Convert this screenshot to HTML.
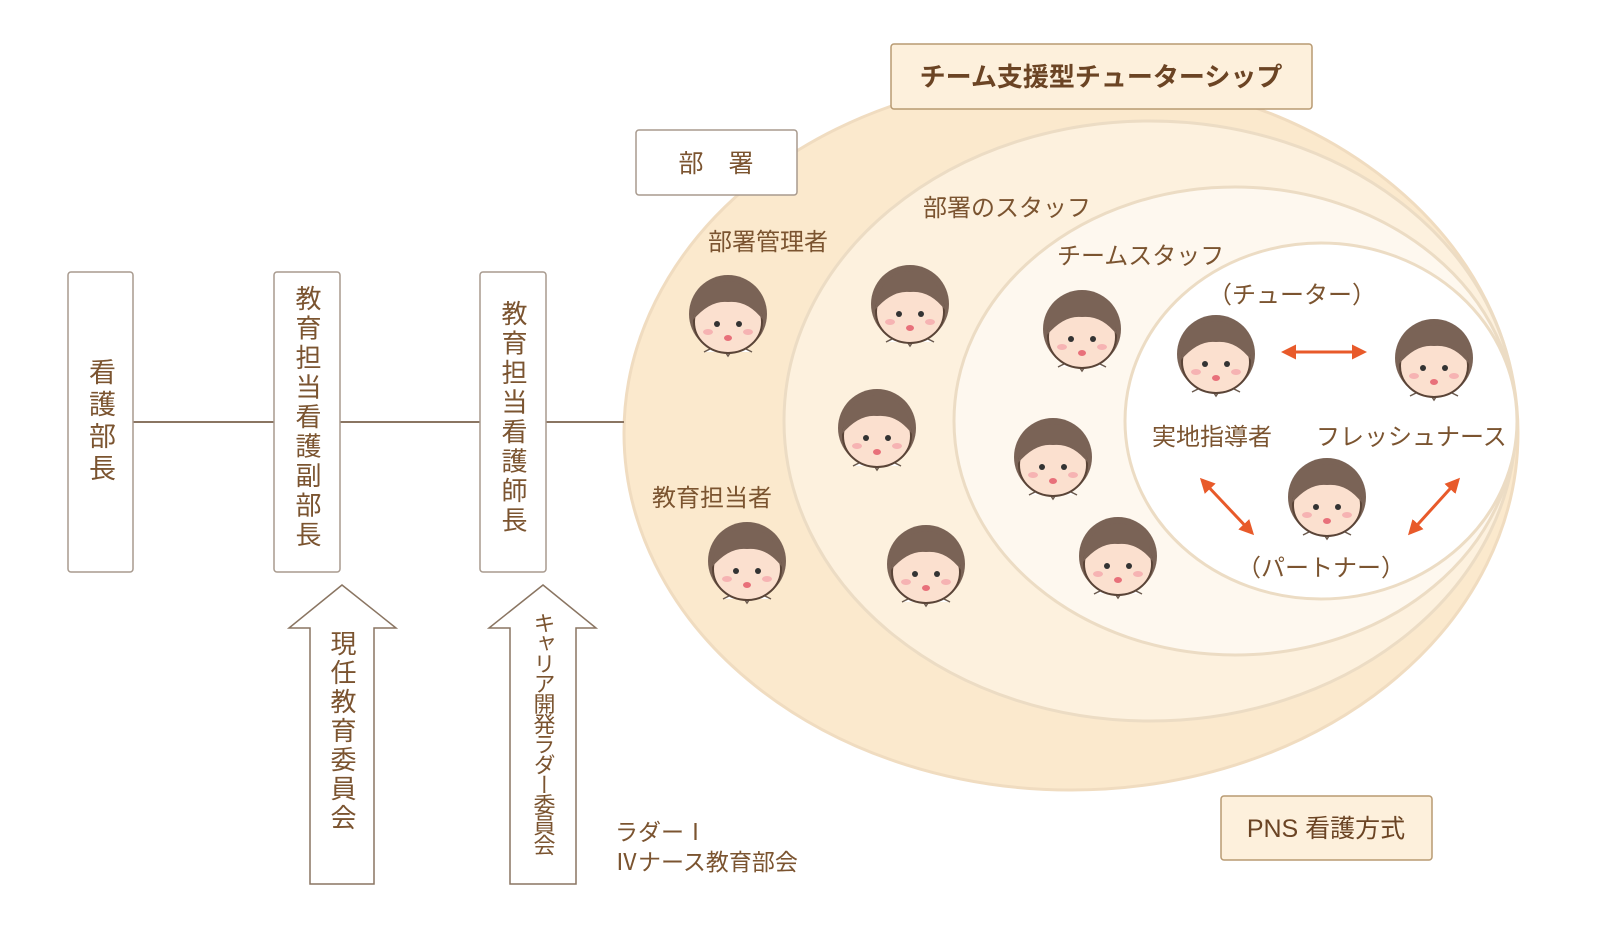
<!DOCTYPE html>
<html><head><meta charset="utf-8"><style>
html,body{margin:0;padding:0;background:#fff;}
body{width:1600px;height:920px;overflow:hidden;}
svg text{font-family:"Liberation Sans","Noto Sans CJK JP",sans-serif;fill:#7b5430;}
</style></head><body>
<svg width="1600" height="920" viewBox="0 0 1600 920" xmlns="http://www.w3.org/2000/svg">
<defs>
<g id="face">
<circle cx="0" cy="-4" r="39" fill="#7a6356"/>
<path d="M-24 34 L-8 26 L0 38 L8 26 L24 34" fill="#fff" stroke="#6b5a4e" stroke-width="1.5"/>
<ellipse cx="0" cy="4" rx="34" ry="31" fill="#fbe0cf" stroke="#5a4437" stroke-width="2"/>
<path d="M-35 2 Q-30 -35 0 -37 Q30 -35 35 2 Q20 -18 0 -16 Q-18 -18 -35 2Z" fill="#7a6356"/>
<circle cx="-11" cy="6" r="3" fill="#333"/><circle cx="11" cy="6" r="3" fill="#333"/>
<ellipse cx="-20" cy="14" rx="5" ry="3" fill="#f6b3b3"/><ellipse cx="20" cy="14" rx="5" ry="3" fill="#f6b3b3"/>
<ellipse cx="0" cy="20" rx="4" ry="3" fill="#e8707a"/>
</g>
<marker id="ah" viewBox="0 0 10 10" refX="8" refY="5" markerWidth="5" markerHeight="5" orient="auto-start-reverse"><path d="M0 0L10 5L0 10z" fill="#e85a2a"/></marker>
</defs>

<ellipse cx="1071" cy="433" rx="447" ry="357" fill="#fbe9cd" stroke="#f0dcc0" stroke-width="3"/>
<ellipse cx="1150" cy="421" rx="366" ry="300" fill="#fdf1de" stroke="#ecdcc4" stroke-width="3"/>
<ellipse cx="1235" cy="421" rx="281" ry="234" fill="#fef8ef" stroke="#ecdcc4" stroke-width="3"/>
<ellipse cx="1321" cy="421" rx="196" ry="178" fill="#fff" stroke="#ecdcc4" stroke-width="3"/>

<line x1="133" y1="422" x2="624" y2="422" stroke="#8a7562" stroke-width="2"/>

<rect x="68" y="272" width="65" height="300" rx="3" fill="#fff" stroke="#a89a8e" stroke-width="1.5"/>
<rect x="274" y="272" width="66" height="300" rx="3" fill="#fff" stroke="#a89a8e" stroke-width="1.5"/>
<rect x="480" y="272" width="66" height="300" rx="3" fill="#fff" stroke="#a89a8e" stroke-width="1.5"/>
<text x="100" y="358" font-size="27" writing-mode="vertical-rl" letter-spacing="5">看護部長</text>
<text x="307" y="285" font-size="26" writing-mode="vertical-rl" letter-spacing="3.5">教育担当看護副部長</text>
<text x="513" y="300" font-size="26" writing-mode="vertical-rl" letter-spacing="3.5">教育担当看護師長</text>

<path d="M342 585 L396 628 L374 628 L374 884 L310 884 L310 628 L289 628 Z" fill="#fff" stroke="#8a7562" stroke-width="1.5"/>
<path d="M543 585 L596 628 L576 628 L576 884 L510 884 L510 628 L489 628 Z" fill="#fff" stroke="#8a7562" stroke-width="1.5"/>
<text x="342" y="630" font-size="26" writing-mode="vertical-rl" letter-spacing="3">現任教育委員会</text>
<text x="543" y="612" font-size="22" writing-mode="vertical-rl" letter-spacing="-1.8">キャリア開発ラダー委員会</text>
<text x="615" y="840" font-size="23">ラダーⅠ</text>
<text x="615" y="870" font-size="23">Ⅳナース教育部会</text>

<rect x="891" y="44" width="421" height="65" rx="3" fill="#fdf0dc" stroke="#b89a72" stroke-width="1.5"/>
<text x="1101" y="86" font-size="26" font-weight="bold" text-anchor="middle" style="fill:#6b4424">チーム支援型チューターシップ</text>
<rect x="636" y="130" width="161" height="65" rx="3" fill="#fff" stroke="#a89a8e" stroke-width="1.5"/>
<text x="716" y="172" font-size="25" text-anchor="middle">部　署</text>
<rect x="1221" y="796" width="211" height="64" rx="3" fill="#fdf0dc" stroke="#b89a72" stroke-width="1.5"/>
<text x="1326" y="837" font-size="25" text-anchor="middle" style="fill:#6b4424">PNS 看護方式</text>

<g font-size="24">
<text x="708" y="250">部署管理者</text>
<text x="923" y="216">部署のスタッフ</text>
<text x="1057" y="264">チームスタッフ</text>
<text x="1208" y="303">（チューター）</text>
<text x="1152" y="445">実地指導者</text>
<text x="1316" y="445">フレッシュナース</text>
<text x="1237" y="576">（パートナー）</text>
<text x="652" y="506">教育担当者</text>
</g>

<use href="#face" x="728" y="318"/>
<use href="#face" x="910" y="308"/>
<use href="#face" x="877" y="432"/>
<use href="#face" x="747" y="565"/>
<use href="#face" x="926" y="568"/>
<use href="#face" x="1082" y="333"/>
<use href="#face" x="1053" y="461"/>
<use href="#face" x="1118" y="560"/>
<use href="#face" x="1216" y="358"/>
<use href="#face" x="1434" y="362"/>
<use href="#face" x="1327" y="501"/>

<g stroke="#e85a2a" stroke-width="3" fill="none">
<line x1="1284" y1="352" x2="1364" y2="352" marker-start="url(#ah)" marker-end="url(#ah)"/>
<line x1="1202" y1="480" x2="1252" y2="533" marker-start="url(#ah)" marker-end="url(#ah)"/>
<line x1="1458" y1="480" x2="1410" y2="533" marker-start="url(#ah)" marker-end="url(#ah)"/>
</g>
</svg>
</body></html>
